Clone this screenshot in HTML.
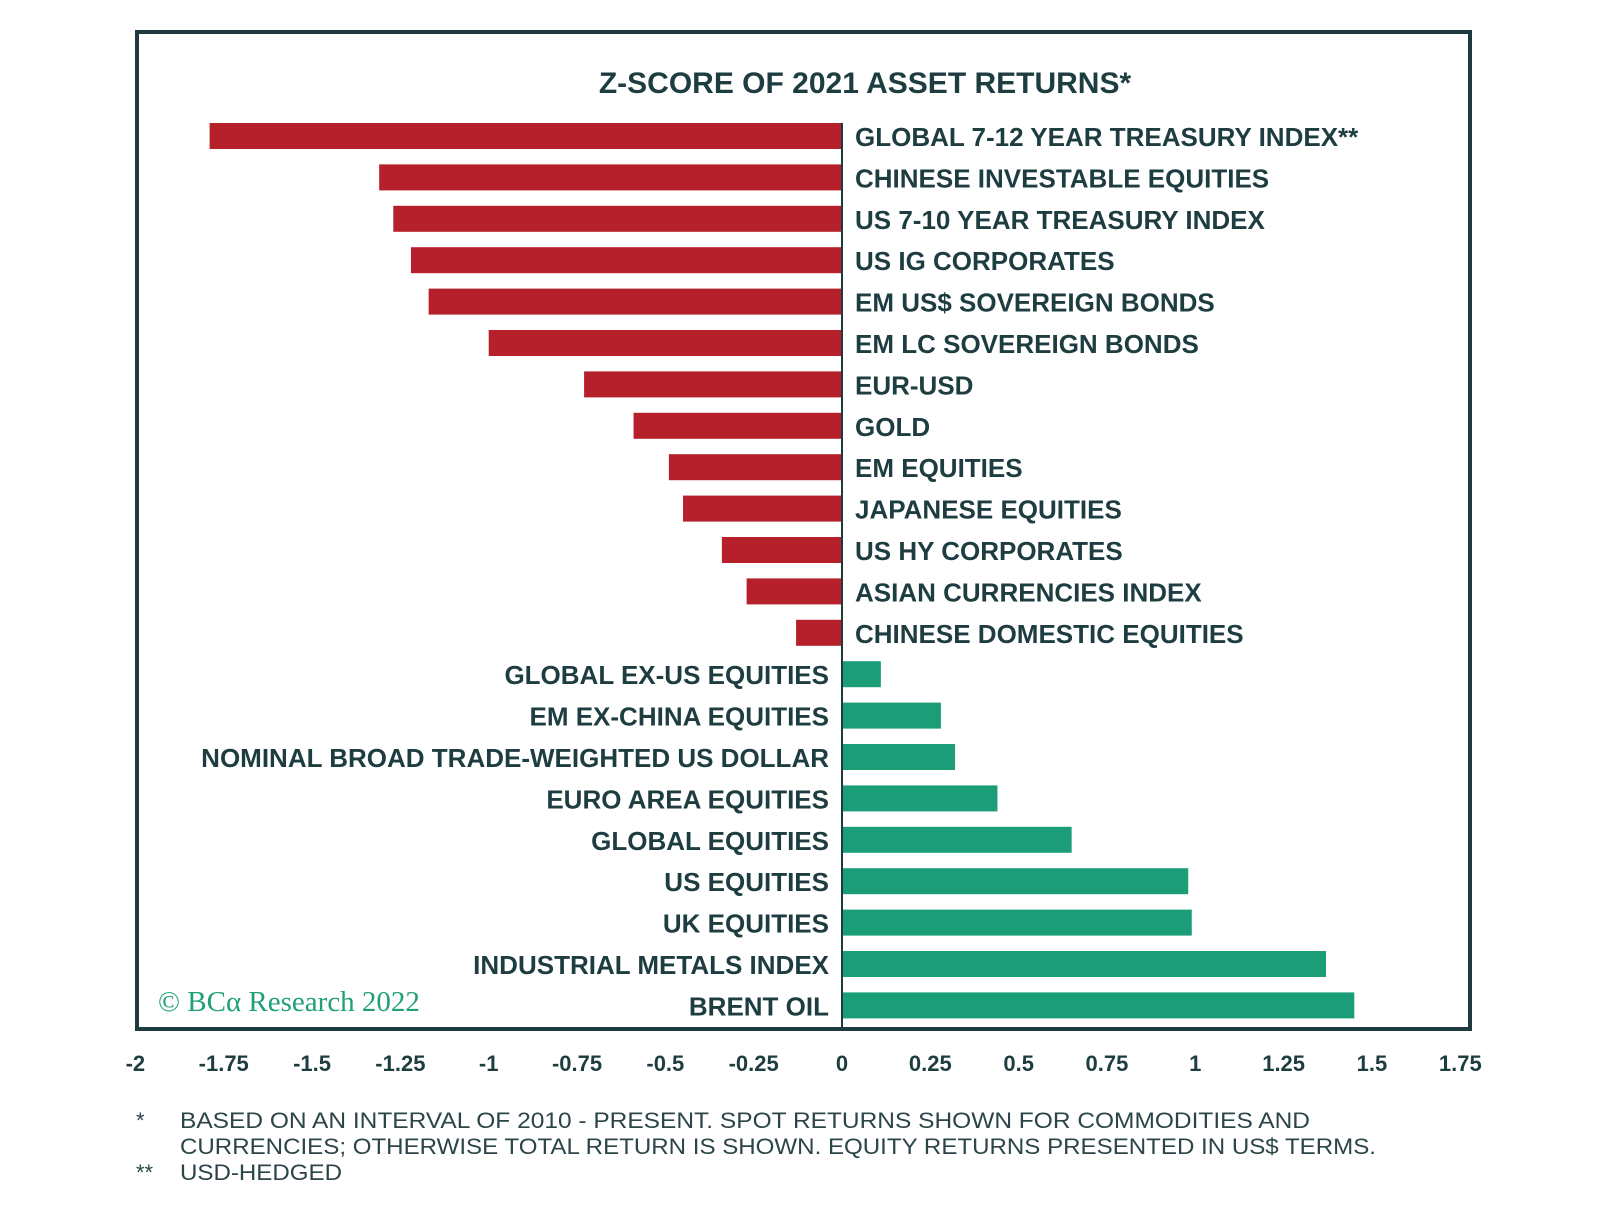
<!DOCTYPE html>
<html><head><meta charset="utf-8"><style>
body{margin:0;background:#fff;width:1600px;height:1219px;overflow:hidden}
svg{display:block}
.lbl{font-family:"Liberation Sans",sans-serif;font-weight:bold;font-size:26px;fill:#1e3d40}
.tick{font-family:"Liberation Sans",sans-serif;font-weight:bold;font-size:22px;fill:#1e3d40}
.fn{font-family:"Liberation Sans",sans-serif;font-size:22px;fill:#2b4548}
</style></head><body>
<svg id="chart" width="1600" height="1219" viewBox="0 0 1600 1219">
<rect x="137" y="32" width="1333" height="997" fill="none" stroke="#1e3a3e" stroke-width="4"/>
<text x="865" y="93" text-anchor="middle" font-family="Liberation Sans, sans-serif" font-weight="bold" font-size="30" fill="#1e3d40">Z-SCORE OF 2021 ASSET RETURNS*</text>
<g id="bars"></g>
<g id="ticks"></g>
<text x="158" y="1011" font-family="Liberation Serif, serif" font-size="29" fill="#1fa07a">© BCα Research 2022</text>
<g>
<text class="fn" x="136" y="1128">*</text>
<text class="fn" x="180" y="1128" textLength="1130" lengthAdjust="spacingAndGlyphs">BASED ON AN INTERVAL OF 2010 - PRESENT. SPOT RETURNS SHOWN FOR COMMODITIES AND</text>
<text class="fn" x="180" y="1154" textLength="1196" lengthAdjust="spacingAndGlyphs">CURRENCIES; OTHERWISE TOTAL RETURN IS SHOWN. EQUITY RETURNS PRESENTED IN US$ TERMS.</text>
<text class="fn" x="136" y="1180">**</text>
<text class="fn" x="180" y="1180" textLength="162" lengthAdjust="spacingAndGlyphs">USD-HEDGED</text>
</g>
</svg>
<script>
const categories=["GLOBAL 7-12 YEAR TREASURY INDEX**","CHINESE INVESTABLE EQUITIES","US 7-10 YEAR TREASURY INDEX","US IG CORPORATES","EM US$ SOVEREIGN BONDS","EM LC SOVEREIGN BONDS","EUR-USD","GOLD","EM EQUITIES","JAPANESE EQUITIES","US HY CORPORATES","ASIAN CURRENCIES INDEX","CHINESE DOMESTIC EQUITIES","GLOBAL EX-US EQUITIES","EM EX-CHINA EQUITIES","NOMINAL BROAD TRADE-WEIGHTED US DOLLAR","EURO AREA EQUITIES","GLOBAL EQUITIES","US EQUITIES","UK EQUITIES","INDUSTRIAL METALS INDEX","BRENT  OIL"];
const values=[-1.79,-1.31,-1.27,-1.22,-1.17,-1.00,-0.73,-0.59,-0.49,-0.45,-0.34,-0.27,-0.13,0.11,0.28,0.32,0.44,0.65,0.98,0.99,1.37,1.45];
const tickValues=[-2,-1.75,-1.5,-1.25,-1,-0.75,-0.5,-0.25,0,0.25,0.5,0.75,1,1.25,1.5,1.75];
const tickLabels=["-2","-1.75","-1.5","-1.25","-1","-0.75","-0.5","-0.25","0","0.25","0.5","0.75","1","1.25","1.5","1.75"];
const NS="http://www.w3.org/2000/svg";
const x=v=>842+v*353.3;
const y=i=>136+i*41.4;
const bh=26;
const bars=document.getElementById('bars');
values.forEach((v,i)=>{
  const r=document.createElementNS(NS,'rect');
  
  
  const x0=Math.min(x(0),x(v)),w=Math.abs(x(v)-x(0));
  r.setAttribute('x',x0);r.setAttribute('y',y(i)-bh/2);
  r.setAttribute('width',w);r.setAttribute('height',bh);
  r.setAttribute('fill',v<0?'#b5202a':'#1b9e78');
  bars.appendChild(r);
  const t=document.createElementNS(NS,'text');
  
  
  t.setAttribute('class','lbl');
  t.setAttribute('y',y(i)+10);
  if(v<0){t.setAttribute('x',x(0)+13);}else{t.setAttribute('x',x(0)-13);t.setAttribute('text-anchor','end');}
  t.textContent=categories[i];
  bars.appendChild(t);
});
const zl=document.createElementNS(NS,'line');


zl.setAttribute('x1',x(0));zl.setAttribute('x2',x(0));
zl.setAttribute('y1',y(0)-bh/2);zl.setAttribute('y2',1029);
zl.setAttribute('stroke','#1e3a3e');zl.setAttribute('stroke-width','2');
bars.appendChild(zl);
const tg=document.getElementById('ticks');
tickValues.forEach((v,i)=>{
  const t=document.createElementNS(NS,'text');
  
  
  t.setAttribute('class','tick');
  t.setAttribute('x',x(v));t.setAttribute('y',1071);
  t.setAttribute('text-anchor','middle');
  t.textContent=tickLabels[i];
  tg.appendChild(t);
});
</script>
</body></html>
